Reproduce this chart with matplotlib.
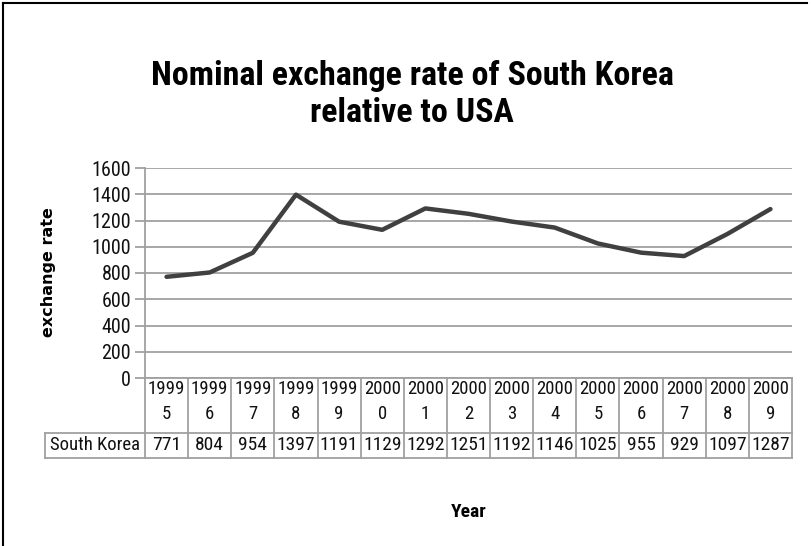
import matplotlib
matplotlib.use("Agg")
import matplotlib.pyplot as plt
from matplotlib.font_manager import findfont, FontProperties
import matplotlib.transforms as mtransforms
from matplotlib.lines import Line2D

title = "Nominal exchange rate of South Korea\nrelative to USA"
years = ["1999\n5", "1999\n6", "1999\n7", "1999\n8", "1999\n9",
         "2000\n0", "2000\n1", "2000\n2", "2000\n3", "2000\n4",
         "2000\n5", "2000\n6", "2000\n7", "2000\n8", "2000\n9"]
series_name = "South Korea"
values = [771, 804, 954, 1397, 1191, 1129, 1292, 1251, 1192, 1146,
          1025, 955, 929, 1097, 1287]
yticks = [0, 200, 400, 600, 800, 1000, 1200, 1400, 1600]

def pick(names):
    for n in names:
        try:
            findfont(FontProperties(family=n), fallback_to_default=False)
            return n
        except Exception:
            pass
    return "DejaVu Sans"

narrow = pick(["Liberation Sans Narrow", "Roboto Condensed", "Open Sans Condensed", "Liberation Sans"])

W, H = 811, 546
fig = plt.figure(figsize=(W / 100, H / 100), dpi=100)

def fx(px):
    return px / W

def fy(py):
    return 1 - py / H

ax_l, ax_r, ax_t, ax_b = 145, 792, 168, 378
ax = fig.add_axes([fx(ax_l), fy(ax_b), fx(ax_r - ax_l), (ax_b - ax_t) / H])

n = len(values)
x = list(range(n))
ax.plot(x, values, color="#404040", lw=3.2, solid_capstyle="round", zorder=3)
ax.set_xlim(-0.5, n - 0.5)
ax.set_ylim(0, 1600)
ax.set_yticks(yticks)
ax.set_yticklabels([str(t) for t in yticks], family=narrow, fontsize=14.5, color="#111111")
ax.set_xticks([])
ax.grid(axis="y", color="#a0a0a0", lw=1.3)
ax.set_axisbelow(True)
for s in ["top", "right"]:
    ax.spines[s].set_visible(False)
ax.spines["left"].set_color("#a0a0a0")
ax.spines["left"].set_linewidth(1.3)
ax.spines["bottom"].set_color("#a0a0a0")
ax.spines["bottom"].set_linewidth(1.3)
ax.tick_params(axis="y", length=7, color="#a0a0a0", width=1.3, pad=3)

# data table below the axis
trans = mtransforms.blended_transform_factory(ax.transData, ax.transAxes)
h_ax = ax_b - ax_t
y_mid = -(433 - ax_b) / h_ax
y_bot = -(458 - ax_b) / h_ax
lc = "#a0a0a0"
lw = 1.3
col_w_px = (ax_r - ax_l) / n
lab_left = -0.5 - (ax_l - 45) / col_w_px

ax.add_line(Line2D([-0.5, n - 0.5], [y_mid, y_mid], transform=trans, color=lc, lw=lw, clip_on=False))
ax.add_line(Line2D([lab_left, n - 0.5], [y_bot, y_bot], transform=trans, color=lc, lw=lw, clip_on=False))
ax.add_line(Line2D([lab_left, -0.5], [y_mid, y_mid], transform=trans, color=lc, lw=lw, clip_on=False))
ax.add_line(Line2D([lab_left, lab_left], [y_mid, y_bot], transform=trans, color=lc, lw=lw, clip_on=False))
for i in range(n + 1):
    xv = i - 0.5
    ax.add_line(Line2D([xv, xv], [0, y_bot], transform=trans, color=lc, lw=lw, clip_on=False))

for i, (yr, v) in enumerate(zip(years, values)):
    ax.text(i, -0.008, yr, transform=trans, ha="center", va="top",
            family=narrow, fontsize=13.5, linespacing=1.55, color="#111111")
    ax.text(i, (y_mid + y_bot) / 2, str(v), transform=trans, ha="center", va="center",
            family=narrow, fontsize=14, color="#111111")
ax.text((lab_left - 0.5) / 2, (y_mid + y_bot) / 2, series_name, transform=trans,
        ha="center", va="center", family=narrow, fontsize=13.5, color="#111111")

fig.text(fx(412), fy(76), "Nominal exchange rate of South Korea", ha="center", va="center",
         family=narrow, fontsize=24.5, fontweight="bold")
fig.text(fx(412), fy(113), "relative to USA", ha="center", va="center",
         family=narrow, fontsize=24.5, fontweight="bold")
fig.text(fx(469), fy(512), "Year", ha="center", va="center", family=narrow,
         fontsize=14, fontweight="bold")
fig.text(fx(49), fy(272), "exchange rate", ha="center", va="center", rotation=90,
         family="DejaVu Sans", fontsize=11.5, fontweight="bold")

# outer border
fig.add_artist(Line2D([fx(3), fx(3)], [0, fy(3)], transform=fig.transFigure, color="black", lw=1.5))
fig.add_artist(Line2D([fx(3), fx(807)], [fy(3), fy(3)], transform=fig.transFigure, color="black", lw=1.5))

fig.savefig("out.png", dpi=100)
